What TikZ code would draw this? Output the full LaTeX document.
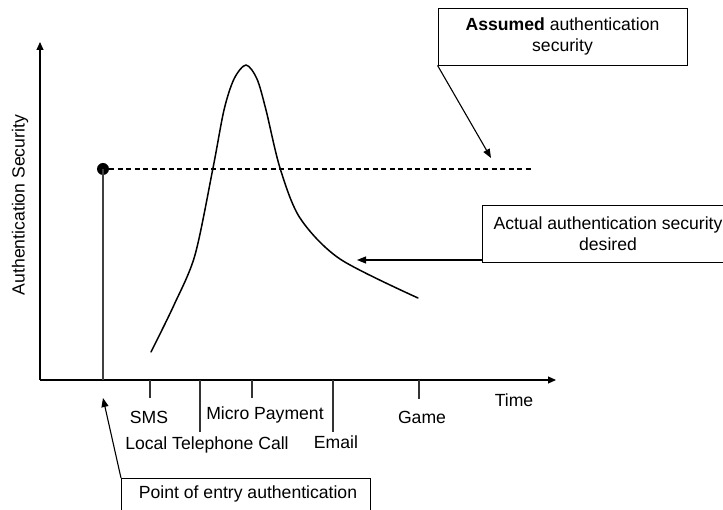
\documentclass[tikz,border=0pt]{standalone}
\usepackage{fontspec}
\setmainfont{Liberation Sans}
\usetikzlibrary{arrows.meta}
\begin{document}
\begin{tikzpicture}[x=1pt,y=-1pt,
  lbl/.style={font=\fontsize{17.6}{21}\selectfont, inner sep=0pt},
  callout/.style={draw, line width=0.9pt, align=center, inner sep=0pt,
    font=\fontsize{17.6}{21}\selectfont},
  axisline/.style={line width=1.2pt, -{Triangle[length=8pt,width=7pt]}},
  tick/.style={line width=1.1pt, black!80},
  pointer/.style={line width=1.1pt, -{Triangle[length=9pt,width=7pt]}}]
\useasboundingbox (0,0) rectangle (723,510);

% axes
\coordinate (O) at (40,380);
\coordinate (ytop) at (40,42);
\coordinate (xend) at (556,380);
\draw[axisline] (O) -- (ytop);
\draw[axisline] (O) -- (xend);
\node[lbl, rotate=90] (ylabel) at (20,205) {Authentication Security};
\node[lbl] (time) at (514,400) {Time};

% point of entry level
\coordinate (entrybase) at (103,380);
\node[circle, fill=black, inner sep=0pt, minimum size=12pt] (dot) at (103,169) {};
\draw[line width=1.1pt, black!75] (entrybase) -- (dot.center);
\coordinate (dashend) at (531,169);
\draw[line width=1.1pt, dash pattern=on 5pt off 3.5pt] (dot.east) -- (dashend);

% security curve
\draw[line width=1.5pt, line cap=round] plot[smooth, tension=0.5] coordinates {
  (151,352) (174,305) (195,255) (213,168) (224,110) (234,79) (246,65)
  (257,79) (266,110) (280,168) (300,218) (340,259) (418,298)};

% ticks and labels
\coordinate (tsms) at (150,380);   \coordinate (tsmsb) at (150,398);
\coordinate (tltc) at (200,380);   \coordinate (tltcb) at (200,432);
\coordinate (tmp) at (252,380);    \coordinate (tmpb) at (252,398);
\coordinate (tem) at (333,380);    \coordinate (temb) at (333,432);
\coordinate (tgm) at (419,380);    \coordinate (tgmb) at (419,399);
\draw[tick] (tsms) -- (tsmsb);
\draw[tick] (tltc) -- (tltcb);
\draw[tick] (tmp) -- (tmpb);
\draw[tick] (tem) -- (temb);
\draw[tick] (tgm) -- (tgmb);
\node[lbl] (sms) at (149,417) {SMS};
\node[lbl] (ltc) at (207,445) {Local Telephone Call};
\node[lbl] (mp) at (265,415) {Micro Payment};
\node[lbl] (em) at (336,442) {Email};
\node[lbl] (gm) at (422,417) {Game};

% callouts
\node[callout, minimum width=249pt, minimum height=57pt] (assumed) at (562.5,36.5)
  {\textbf{Assumed} authentication\\security};
\coordinate (assumedtip) at (491,158);
\draw[pointer] (assumed.south west) -- (assumedtip);

\node[callout, minimum width=252pt, minimum height=57pt] (actual) at (608,233.5)
  {Actual authentication security\\desired};
\coordinate (actualtip) at (357,260);
\draw[pointer] (actual.west |- 0,260) -- (actualtip);

\node[callout, minimum width=249pt, minimum height=45pt, anchor=north west] (entry) at (121,478) {};
\node[lbl] (entrytext) at (248,494) {Point of entry authentication};
\coordinate (entrytip) at (103,398);
\draw[pointer] (entry.north west) -- (entrytip);
\end{tikzpicture}
\end{document}
